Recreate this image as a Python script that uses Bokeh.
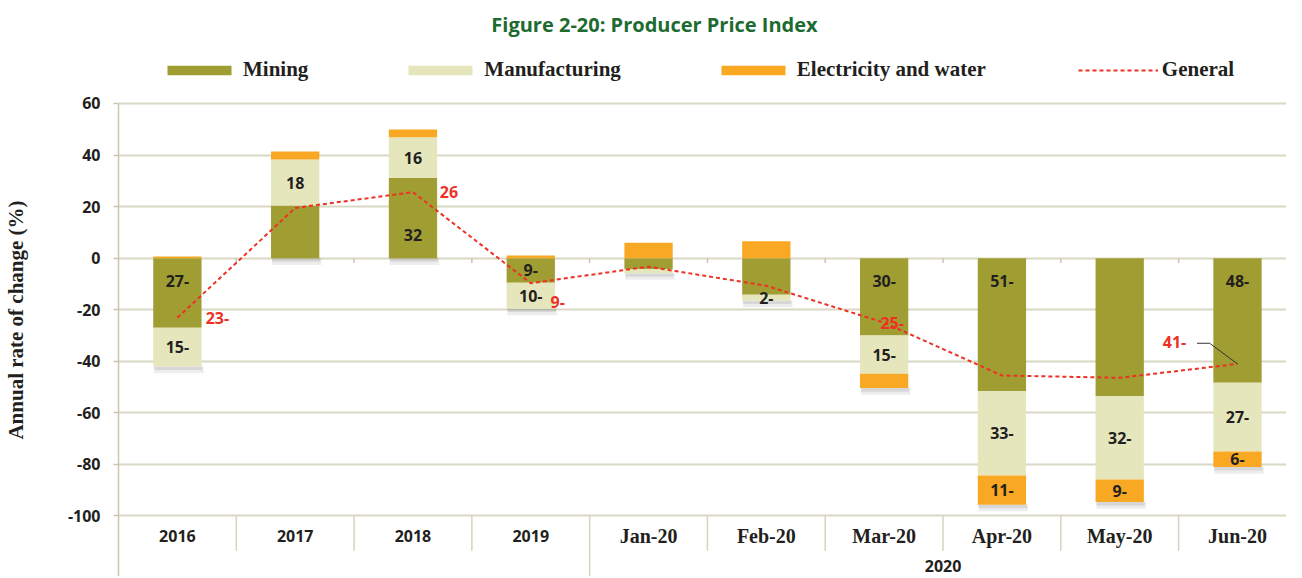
import numpy as np
from bokeh.plotting import figure
from bokeh.models import ColumnDataSource, Range1d, FixedTicker, Legend, LegendItem, Label
from bokeh.core.properties import value
from bokeh.embed import file_html
from bokeh.resources import INLINE

# ---------------- data ----------------
categories = ["2016", "2017", "2018", "2019", "Jan-20", "Feb-20", "Mar-20", "Apr-20", "May-20", "Jun-20"]
group_label = "2020"
group_start = 4  # first category of the 2020 group

mining = [-27.0, 20.4, 31.2, -9.5, -4.3, -14.2, -30.0, -51.6, -53.6, -48.3]
manufacturing = [-15.0, 17.9, 15.7, -10.0, -1.5, -2.2, -14.8, -32.7, -32.2, -26.7]
electricity = [0.7, 3.1, 3.0, 1.0, 6.0, 6.6, -5.6, -11.3, -8.8, -6.0]
general = [-23.1, 19.5, 25.6, -9.7, -3.3, -10.7, -25.0, -45.5, -46.4, -41.0]

mining_labels = ["27-", "", "32", "9-", "", "", "30-", "51-", "", "48-"]
manufacturing_labels = ["15-", "18", "16", "10-", "", "2-", "15-", "33-", "32-", "27-"]
electricity_labels = ["", "", "", "", "", "", "", "11-", "9-", "6-"]
general_labels = ["23-", "", "26", "9-", "", "", "25-", "", "", "41-"]

y_ticks = [-100, -80, -60, -40, -20, 0, 20, 40, 60]
y_title = "Annual rate of change (%)"

# ---------------- styles ----------------
C_MIN = "#a09d33"
C_MAN = "#e5e6bc"
C_ELE = "#f8a823"
C_GEN = "#ee3124"
C_TXT = "#231f20"
C_GRID = "#dad7c5"
C_AXIS = "#c9c5b1"
NUM_FONT = "Open Sans"
SERIF = "Liberation Serif"
EM = "\u2003"  # em spaces after the y title nudge it down along the axis

# general-label placement (screen px horizontally, data units vertically)
gen_dx = [40, 0, 36, 27, 0, 0, 8, 0, 0, -63]
gen_dy = [0, 0, 0, -7.4, 0, 0, 0, 0, 0, 8.4]

n = len(categories)
xc = np.arange(n) + 0.5
H = 576
Y_MIN = -123.47
Y_MAX = 99.95
Y_TOP = y_ticks[-1]

p = figure(width=1286, height=H,
           x_range=Range1d(0, 9.916), y_range=Range1d(Y_MIN, Y_MAX),
           x_axis_location=None, output_backend="svg", toolbar_location=None,
           min_border_left=112, min_border_right=0, min_border_top=0, min_border_bottom=0)
p.outline_line_color = None
p.background_fill_color = "white"
p.border_fill_color = "white"

# y axis
p.yaxis.ticker = FixedTicker(ticks=y_ticks)
p.ygrid.ticker = FixedTicker(ticks=y_ticks)
p.ygrid.grid_line_color = C_GRID
p.ygrid.grid_line_width = 2
p.xgrid.visible = False
ax = p.yaxis[0]
ax.bounds = (Y_MIN, Y_TOP)
ax.major_label_overrides = {t: str(t) for t in y_ticks}
ax.axis_line_color = C_AXIS
ax.axis_line_width = 1.5
ax.major_tick_line_color = C_AXIS
ax.major_tick_line_width = 1.5
ax.major_tick_out = 5
ax.major_tick_in = 0
ax.minor_tick_line_color = None
ax.major_label_standoff = 13
ax.major_label_text_font = NUM_FONT
ax.major_label_text_font_style = "bold"
ax.major_label_text_font_size = "16px"
ax.major_label_text_color = C_TXT
ax.axis_label = y_title + EM * 3
ax.axis_label_text_font = SERIF
ax.axis_label_text_font_style = "bold"
ax.axis_label_text_font_size = "21px"
ax.axis_label_text_color = C_TXT
ax.axis_label_standoff = 37

# ---------------- stacking (separate positive / negative stacks) ----------------
pos = np.zeros(n)
neg = np.zeros(n)


def stack(vals):
    global pos, neg
    v = np.array(vals, dtype=float)
    bottom = np.where(v >= 0, pos, neg + v)
    top = np.where(v >= 0, pos + v, neg)
    pos = np.where(v >= 0, pos + v, pos)
    neg = np.where(v < 0, neg + v, neg)
    return bottom, top


mb, mt = stack(mining)
fb, ft = stack(manufacturing)
eb, et = stack(electricity)
lows = np.minimum(neg, 0)

# soft shadows under the bars
p.vbar(x=xc + 0.012, width=0.42, top=lows, bottom=lows - 2.6, fill_color="black",
       fill_alpha=0.07, line_color=None)
p.vbar(x=xc + 0.008, width=0.41, top=lows, bottom=lows - 1.4, fill_color="black",
       fill_alpha=0.09, line_color=None)

BW = 0.41
r_min = p.vbar(x=xc, width=BW, bottom=mb, top=mt, fill_color=C_MIN, line_color=None)
r_man = p.vbar(x=xc, width=BW, bottom=fb, top=ft, fill_color=C_MAN, line_color=None)
r_ele = p.vbar(x=xc, width=BW, bottom=eb, top=et, fill_color=C_ELE, line_color=None)

# category separators and zero-line ticks
bounds = np.arange(1, n)
sep_end = np.where(bounds == group_start, Y_MIN, -113.5)
p.segment(x0=bounds, y0=-100, x1=bounds, y1=sep_end, line_color="#d6d3bf", line_width=1.5)
p.segment(x0=bounds, y0=0, x1=bounds, y1=-1.9, line_color=C_AXIS, line_width=1.5)

# general line
r_gen = p.line(x=xc, y=general, line_color=C_GEN, line_width=2, line_dash="4 3")

# leader line for the last general label
g_last = general[-1]
p.line(x=[xc[-1], xc[-1] - 0.236, xc[-1] - 0.344], y=[g_last, g_last + 8.0, g_last + 8.0],
       line_color="#333333", line_width=1)

# ---------------- value labels ----------------
m_arr = np.array(mining)
mining_y = np.sign(m_arr) * np.minimum(9.0, np.abs(m_arr) / 2)
lbl_kw = dict(text_font=value(NUM_FONT), text_font_style="bold", text_font_size="16px",
              text_align="center", text_baseline="middle")
p.text(x=xc, y=mining_y, text=mining_labels, text_color=C_TXT, **lbl_kw)
p.text(x=xc, y=(fb + ft) / 2, text=manufacturing_labels, text_color=C_TXT, **lbl_kw)
p.text(x=xc, y=(eb + et) / 2, text=electricity_labels, text_color=C_TXT, **lbl_kw)

gsrc = ColumnDataSource(dict(x=xc, y=np.array(general) + np.array(gen_dy),
                             text=general_labels, dx=gen_dx))
p.text(x="x", y="y", text="text", x_offset="dx", source=gsrc, text_color=C_GEN, **lbl_kw)

# ---------------- category labels ----------------
p.text(x=xc[:group_start], y=-107.95, text=categories[:group_start], text_color=C_TXT,
       text_font=value(NUM_FONT), text_font_style="bold", text_font_size="16px",
       text_align="center", text_baseline="middle")
p.text(x=xc[group_start:], y=-107.95, text=categories[group_start:], text_color=C_TXT,
       text_font=value(SERIF), text_font_style="bold", text_font_size="20px",
       text_align="center", text_baseline="middle")
p.text(x=[(group_start + n) / 2], y=-119.3, text=[group_label], text_color=C_TXT,
       text_font=value(NUM_FONT), text_font_style="bold", text_font_size="16px",
       text_align="center", text_baseline="middle")

# ---------------- legend (inside the tall frame, above the 60 line) ----------------
legend = Legend(items=[LegendItem(label="Mining", renderers=[r_min]),
                       LegendItem(label="Manufacturing", renderers=[r_man]),
                       LegendItem(label="Electricity and water", renderers=[r_ele]),
                       LegendItem(label="General", renderers=[r_gen])],
                orientation="horizontal", location=(41, H - 82),
                glyph_width=80, glyph_height=12, label_standoff=4, spacing=92,
                padding=0, margin=0, border_line_color=None, background_fill_alpha=0,
                label_text_font=SERIF, label_text_font_style="bold",
                label_text_font_size="21px", label_text_color=C_TXT)
p.add_layout(legend)

# ---------------- title ----------------
title = Label(x=536, y=H - 24, x_units="screen", y_units="screen",
              text="Figure 2-20: Producer Price Index", text_align="center",
              text_baseline="middle", text_font=NUM_FONT, text_font_style="bold",
              text_font_size="20px", text_color="#1d6b30")
p.add_layout(title)

open("out.html", "w").write(file_html(p, INLINE))
